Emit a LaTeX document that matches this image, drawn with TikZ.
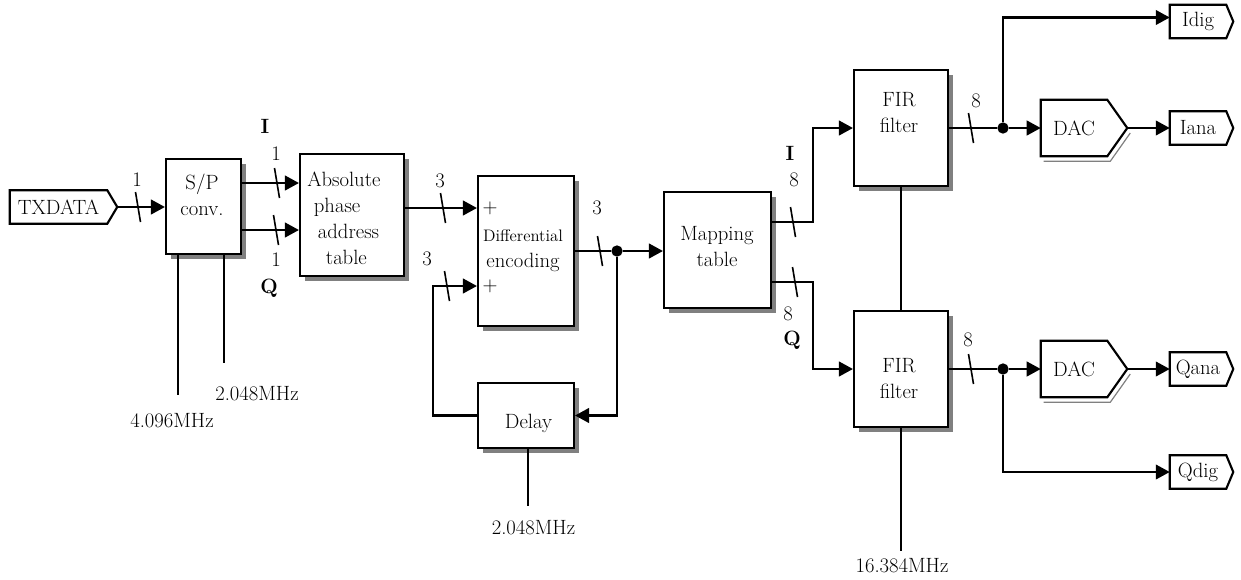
\documentclass[tikz,border=0pt]{standalone}
\usepackage{fontspec}
\usetikzlibrary{arrows.meta,shadows,calc}
\tikzset{
  blk/.style={draw, line width=1.6pt, fill=white, inner sep=0pt,
    drop shadow={shadow xshift=4pt, shadow yshift=-4pt, fill=black!50, opacity=1}},
  wire/.style={line width=1.6pt},
  arr/.style={wire, -{Triangle[length=10.5pt,width=11pt]}},
  txt/.style={inner sep=0pt, align=center},
  num/.style={inner sep=0pt},
  hole/.style={rectangle, inner sep=0pt},
  edgeline/.style={line width=1.6pt, line join=miter},
  junction/.style={circle, fill=black, inner sep=0pt, minimum size=8.5pt},
  busmark/.pic={\draw[line width=1.2pt] (-2.5,-15) -- (2.5,15);},
}
\begin{document}
\begin{tikzpicture}[x=0.75pt, y=-0.75pt, font=\fontsize{15.5}{19.5}\selectfont]
\useasboundingbox (0,0) rectangle (1241,579);

% ---------- blocks ----------
\node[blk, minimum width=56.25pt, minimum height=71.25pt] (sp) at (203.5,206.5) {};
\node[txt] (sptext) at (202,195) {S/P\\conv.};

\node[blk, minimum width=78pt, minimum height=91.5pt] (abs) at (352,215) {};
\node[txt, align=left, anchor=west] (abstext) at (307,218)
  {Absolute\\\hspace*{5pt}phase\\\hspace*{8pt}address\\\hspace*{14pt}table};

\node[blk, minimum width=72pt, minimum height=112.5pt] (diff) at (526,251) {};
\node[txt] (difftext) at (523,251)
  {{\fontsize{12.5}{19.5}\selectfont Differential}\\encoding};
\node[num] (plusA) at (490,208) {+};
\node[num] (plusB) at (490,286) {+};

\node[blk, minimum width=72pt, minimum height=48.75pt] (delay) at (526,415.5) {};
\node[num, anchor=base] (delaytext) at (528.5,428) {Delay};

\node[blk, minimum width=80.25pt, minimum height=87pt] (map) at (717.5,250) {};
\node[txt] (maptext) at (717,247) {Mapping\\table};

\node[blk, minimum width=70.5pt, minimum height=87pt] (fir1) at (901,128) {};
\node[txt] (fir1text) at (899,113) {FIR\\filter};
\node[blk, minimum width=70.5pt, minimum height=87pt] (fir2) at (901,369) {};
\node[txt] (fir2text) at (899,379) {FIR\\filter};

% ---------- DACs ----------
\foreach \d/\y in {dac1/128, dac2/369}{
  \node[hole, minimum width=49.5pt, minimum height=42pt] (\d) at (1074,\y) {DAC};
  \draw[black!50, line width=0.9pt] ([shift={(3,5)}]\d.south west) -- ([shift={(3,5)}]\d.south east)
    -- ([shift={(3,5)}]$(\d.east)+(20,0)$);
  \draw[edgeline, fill=white] (\d.north west) -- (\d.north east) -- ([xshift=15pt]\d.east)
    -- (\d.south east) -- (\d.south west) -- cycle;
  \node at (\d) {DAC};
}

% ---------- port flags ----------
\node[hole, minimum width=72.75pt, minimum height=24.75pt] (txd) at (58.5,207) {TXDATA};
\draw[edgeline] (txd.north west) -- (txd.north east) -- ([xshift=7.5pt]txd.east)
  -- (txd.south east) -- (txd.south west) -- cycle;
\foreach \p/\t/\y in {idig/Idig/21.5, iana/Iana/128, qana/Qana/369, qdig/Qdig/472}{
  \node[hole, minimum width=42pt, minimum height=24.75pt] (\p) at (1198,\y) {\t};
  \draw[edgeline] (\p.north west) -- (\p.north east) -- ([xshift=5.25pt]\p.east)
    -- (\p.south east) -- (\p.south west) -- cycle;
}

% ---------- connection points ----------
\coordinate (spI) at ($(sp.east)+(0,-23.5)$);
\coordinate (spQ) at ($(sp.east)+(0,23.5)$);
\coordinate (dinA) at (diff.west |- 0,208);
\coordinate (dinB) at (diff.west |- 0,286);
\coordinate (mapI) at (map.east |- 0,222);
\coordinate (mapQ) at (map.east |- 0,282);
\node[junction] (dotD) at (617,251) {};
\node[junction] (dotI) at (1003,128) {};
\node[junction] (dotQ) at (1003,369) {};
\coordinate (clkA) at (178,395);
\coordinate (clkB) at (224,363);
\coordinate (clkD) at (528,506);
\coordinate (clkF) at (901,551);

% ---------- signal flow ----------
\draw[arr] ([xshift=7.5pt]txd.east) -- (sp.west |- txd.east);
\draw[arr] (spI) -- (abs.west |- spI);
\draw[arr] (spQ) -- (abs.west |- spQ);
\draw[arr] (abs.east |- dinA) -- (dinA);
\draw[wire] (diff.east |- dotD) -- (dotD);
\draw[arr] (dotD) -- (map.west |- dotD);
\draw[arr] (dotD) |- (delay.east);
\draw[arr] (delay.west) -- ++(-44,0) |- (dinB);
\draw[arr] (mapI) -- ++(41,0) |- (fir1.west);
\draw[arr] (mapQ) -- ++(41,0) |- (fir2.west);
\draw[wire] (fir1.south) -- (fir2.north);

\draw[wire] (fir1.east) -- (dotI);
\draw[arr] (dotI) -- (dac1.west);
\draw[arr] (dotI) |- ([yshift=3pt]idig.west);
\draw[arr] ([xshift=15pt]dac1.east) -- (iana.west);
\draw[wire] (fir2.east) -- (dotQ);
\draw[arr] (dotQ) -- (dac2.west);
\draw[arr] (dotQ) |- (qdig.west);
\draw[arr] ([xshift=15pt]dac2.east) -- (qana.west);

% ---------- clocks ----------
\draw[wire] (sp.south -| clkA) -- (clkA);
\draw[wire] (sp.south -| clkB) -- (clkB);
\draw[wire] (delay.south -| clkD) -- (clkD);
\draw[wire] (fir2.south -| clkF) -- (clkF);
\node[num, anchor=base] (fA) at (172,427) {4.096MHz};
\node[num, anchor=base] (fB) at (257,400) {2.048MHz};
\node[num, anchor=base] (fD) at (533.5,534) {2.048MHz};
\node[num, anchor=base] (fF) at (902,572) {16.384MHz};

% ---------- bus widths ----------
\foreach \x/\y in {138/207, 277/183, 276/230, 443/208, 447/286, 600/251,
                   793/222, 795/282, 971/128, 971/369}
  \pic at (\x,\y) {busmark};
\node[num] (w1) at (137,180) {1};
\node[num] (w2) at (276,154) {1};
\node[num] (w3) at (276,260) {1};
\node[num] (w4) at (440,181) {3};
\node[num] (w5) at (427,259) {3};
\node[num] (w6) at (597,208) {3};
\node[num] (w7) at (794,180) {8};
\node[num] (w8) at (788,314) {8};
\node[num] (w9) at (976,101) {8};
\node[num] (w10) at (968,340) {8};

% ---------- I / Q tags ----------
\node[num] (tagI1) at (265,126) {\textbf{I}};
\node[num] (tagQ1) at (269,288) {\textbf{Q}};
\node[num] (tagI2) at (790,153) {\textbf{I}};
\node[num] (tagQ2) at (792,340) {\textbf{Q}};
\end{tikzpicture}
\end{document}
